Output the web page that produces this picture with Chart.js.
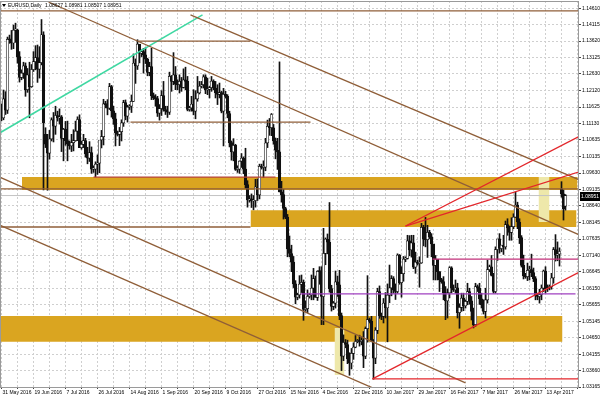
<!DOCTYPE html>
<html>
<head>
<meta charset="utf-8">
<title>EURUSD Daily</title>
<script src="https://cdn.jsdelivr.net/npm/chart.js@4.4.1/dist/chart.umd.min.js"></script>
<style>
  html, body { margin: 0; padding: 0; background: #fff; }
  #wrap { width: 600px; height: 400px; }
</style>
</head>
<body>
<div id="wrap"><canvas id="eurusd" width="600" height="400"></canvas></div>
<script>
// EURUSD daily bars 31 May 2016 .. 25 Apr 2017 (broker with Sunday bars, 6 per week)
// one row = one week, Sun..Fri
const opens = [
  1.1143, 1.1130, 1.1187, 1.1153,
  1.1367, 1.1366, 1.1356, 1.1395, 1.1395, 1.1315,
  1.1252, 1.1265, 1.1287, 1.1215, 1.1260, 1.1224,
  1.1276, 1.1300, 1.1312, 1.1277, 1.1297, 1.1381,
  1.1080, 1.1050, 1.1023, 1.1066, 1.1124, 1.1105,
  1.1137, 1.1130, 1.1133, 1.1068, 1.1095, 1.1061,
  1.1051, 1.1045, 1.1055, 1.1061, 1.1090, 1.1125,
  1.1040, 1.1050, 1.1061, 1.1021, 1.1008, 1.1025,
  1.0975, 1.0975, 1.0990, 1.0993, 1.1063, 1.1073,
  1.1172, 1.1170, 1.1159, 1.1224, 1.1151, 1.1127,
  1.1085, 1.1080, 1.1088, 1.1115, 1.1176, 1.1135,
  1.1162, 1.1165, 1.1180, 1.1295, 1.1287, 1.1353,
  1.1325, 1.1330, 1.1320, 1.1307, 1.1267, 1.1285,
  1.1197, 1.1190, 1.1188, 1.1144, 1.1158, 1.1197,
  1.1155, 1.1150, 1.1147, 1.1255, 1.1240, 1.1260,
  1.1232, 1.1230, 1.1240, 1.1222, 1.1245, 1.1240,
  1.1155, 1.1160, 1.1171, 1.1150, 1.1187, 1.1205,
  1.1226, 1.1230, 1.1254, 1.1214, 1.1216, 1.1221,
  1.1241, 1.1220, 1.1206, 1.1201, 1.1206, 1.1150,
  1.1201, 1.1195, 1.1143, 1.1055, 1.1027, 1.1047,
  1.0974, 1.0975, 1.0999, 1.1008, 1.0975, 1.0928,
  1.0882, 1.0885, 1.0879, 1.0880, 1.0921, 1.0897,
  1.0983, 1.0980, 1.0981, 1.1054, 1.1104, 1.1100,
  1.1100, 1.1060, 1.1032, 1.1027, 1.0906, 1.0898,
  1.0856, 1.0830, 1.0734, 1.0720, 1.0694, 1.0628,
  1.0588, 1.0595, 1.0627, 1.0633, 1.0551, 1.0553,
  1.0590, 1.0595, 1.0615, 1.0644, 1.0587, 1.0666,
  1.0665, 1.0590, 1.0720, 1.0763, 1.0754, 1.0614,
  1.0560, 1.0570, 1.0634, 1.0625, 1.0532, 1.0410,
  1.0451, 1.0445, 1.0402, 1.0389, 1.0418, 1.0437,
  1.0454, 1.0455, 1.0454, 1.0458, 1.0410, 1.0493,
  1.0520, 1.0515, 1.0457, 1.0404, 1.0488, 1.0605,
  1.0532, 1.0530, 1.0570, 1.0556, 1.0594, 1.0616,
  1.0644, 1.0610, 1.0605, 1.0715, 1.0632, 1.0659,
  1.0703, 1.0705, 1.0758, 1.0731, 1.0752, 1.0679,
  1.0694, 1.0690, 1.0692, 1.0799, 1.0763, 1.0762,
  1.0784, 1.0770, 1.0749, 1.0684, 1.0703, 1.0665,
  1.0641, 1.0635, 1.0601, 1.0577, 1.0601, 1.0677,
  1.0615, 1.0610, 1.0616, 1.0541, 1.0557, 1.0585,
  1.0562, 1.0575, 1.0605, 1.0577, 1.0545, 1.0505,
  1.0620, 1.0615, 1.0583, 1.0565, 1.0545, 1.0580,
  1.0671, 1.0680, 1.0654, 1.0605, 1.0732, 1.0764,
  1.0735, 1.0745, 1.0740, 1.0807, 1.0797, 1.0784,
  1.0801, 1.0830, 1.0866, 1.0815, 1.0768, 1.0684,
  1.0652, 1.0650, 1.0669, 1.0671, 1.0662, 1.0644,
  1.0592, 1.0590, 1.0596, 1.0615, 1.0667, 1.0613,
  1.0617, 1.0620, 1.0646, 1.0732, 1.0715, 1.0718,
  1.0915, 1.0900, 1.0863,
];
const highs = [
  1.1172, 1.1214, 1.1209, 1.1374,
  1.1380, 1.1394, 1.1410, 1.1416, 1.1398, 1.1330,
  1.1275, 1.1298, 1.1296, 1.1279, 1.1298, 1.1291,
  1.1330, 1.1348, 1.1350, 1.1345, 1.1427, 1.1390,
  1.1100, 1.1080, 1.1092, 1.1130, 1.1146, 1.1165,
  1.1150, 1.1157, 1.1137, 1.1098, 1.1119, 1.1120,
  1.1060, 1.1080, 1.1094, 1.1120, 1.1133, 1.1139,
  1.1060, 1.1080, 1.1068, 1.1041, 1.1058, 1.1042,
  1.0985, 1.0997, 1.1018, 1.1062, 1.1092, 1.1186,
  1.1180, 1.1185, 1.1234, 1.1228, 1.1165, 1.1144,
  1.1090, 1.1101, 1.1124, 1.1183, 1.1184, 1.1168,
  1.1170, 1.1199, 1.1323, 1.1308, 1.1366, 1.1352,
  1.1335, 1.1340, 1.1342, 1.1310, 1.1298, 1.1340,
  1.1205, 1.1200, 1.1195, 1.1170, 1.1212, 1.1240,
  1.1165, 1.1165, 1.1268, 1.1258, 1.1327, 1.1285,
  1.1245, 1.1260, 1.1252, 1.1278, 1.1283, 1.1255,
  1.1165, 1.1195, 1.1215, 1.1212, 1.1255, 1.1240,
  1.1240, 1.1260, 1.1260, 1.1250, 1.1225, 1.1255,
  1.1245, 1.1240, 1.1230, 1.1235, 1.1210, 1.1219,
  1.1210, 1.1200, 1.1150, 1.1060, 1.1067, 1.1050,
  1.0985, 1.1000, 1.1022, 1.1012, 1.1038, 1.0940,
  1.0895, 1.0900, 1.0895, 1.0944, 1.0945, 1.0990,
  1.0990, 1.1000, 1.1068, 1.1123, 1.1128, 1.1143,
  1.1110, 1.1069, 1.1068, 1.1299, 1.0938, 1.0913,
  1.0860, 1.0838, 1.0773, 1.0745, 1.0711, 1.0638,
  1.0600, 1.0653, 1.0655, 1.0640, 1.0577, 1.0610,
  1.0600, 1.0655, 1.0675, 1.0652, 1.0668, 1.0680,
  1.0680, 1.0796, 1.0767, 1.0779, 1.0874, 1.0624,
  1.0575, 1.0667, 1.0652, 1.0669, 1.0540, 1.0474,
  1.0460, 1.0458, 1.0420, 1.0433, 1.0450, 1.0472,
  1.0460, 1.0473, 1.0468, 1.0484, 1.0498, 1.0653,
  1.0525, 1.0530, 1.0460, 1.0496, 1.0615, 1.0622,
  1.0540, 1.0584, 1.0602, 1.0628, 1.0685, 1.0653,
  1.0650, 1.0628, 1.0719, 1.0717, 1.0680, 1.0711,
  1.0710, 1.0775, 1.0774, 1.0775, 1.0775, 1.0724,
  1.0700, 1.0710, 1.0811, 1.0805, 1.0829, 1.0805,
  1.0790, 1.0780, 1.0717, 1.0714, 1.0702, 1.0665,
  1.0645, 1.0650, 1.0620, 1.0613, 1.0680, 1.0680,
  1.0625, 1.0640, 1.0630, 1.0568, 1.0600, 1.0600,
  1.0580, 1.0630, 1.0615, 1.0590, 1.0555, 1.0630,
  1.0625, 1.0630, 1.0600, 1.0580, 1.0615, 1.0700,
  1.0685, 1.0714, 1.0660, 1.0740, 1.0747, 1.0780,
  1.0745, 1.0775, 1.0818, 1.0825, 1.0803, 1.0828,
  1.0840, 1.0906, 1.0875, 1.0825, 1.0774, 1.0715,
  1.0660, 1.0691, 1.0681, 1.0718, 1.0676, 1.0650,
  1.0600, 1.0612, 1.0625, 1.0670, 1.0680, 1.0625,
  1.0625, 1.0660, 1.0738, 1.0777, 1.0755, 1.0737,
  1.0937, 1.0912, 1.0898,
];
const lows = [
  1.1121, 1.1124, 1.1140, 1.1143,
  1.1355, 1.1337, 1.1339, 1.1358, 1.1295, 1.1238,
  1.1245, 1.1249, 1.1195, 1.1207, 1.1130, 1.1222,
  1.1270, 1.1275, 1.1237, 1.1250, 1.1290, 1.0912,
  1.1040, 1.0911, 1.1005, 1.1060, 1.1057, 1.1080,
  1.1120, 1.1111, 1.1028, 1.1000, 1.1047, 1.1000,
  1.1035, 1.1028, 1.1030, 1.1059, 1.1061, 1.1040,
  1.1035, 1.1040, 1.1011, 1.0991, 1.0998, 1.0962,
  1.0965, 1.0952, 1.0959, 1.0964, 1.1039, 1.1048,
  1.1160, 1.1139, 1.1155, 1.1132, 1.1110, 1.1045,
  1.1075, 1.1046, 1.1060, 1.1104, 1.1124, 1.1117,
  1.1155, 1.1146, 1.1179, 1.1234, 1.1276, 1.1296,
  1.1315, 1.1265, 1.1294, 1.1257, 1.1257, 1.1185,
  1.1185, 1.1165, 1.1134, 1.1123, 1.1137, 1.1150,
  1.1140, 1.1131, 1.1140, 1.1210, 1.1230, 1.1215,
  1.1215, 1.1205, 1.1210, 1.1220, 1.1215, 1.1151,
  1.1150, 1.1150, 1.1139, 1.1127, 1.1180, 1.1202,
  1.1220, 1.1220, 1.1203, 1.1200, 1.1190, 1.1210,
  1.1215, 1.1190, 1.1170, 1.1190, 1.1145, 1.1045,
  1.1190, 1.1130, 1.1042, 1.1002, 1.1000, 1.0971,
  1.0965, 1.0962, 1.0980, 1.0961, 1.0917, 1.0860,
  1.0875, 1.0859, 1.0852, 1.0860, 1.0880, 1.0885,
  1.0975, 1.0950, 1.0970, 1.1040, 1.1077, 1.1076,
  1.1050, 1.1006, 1.0974, 1.0906, 1.0875, 1.0824,
  1.0825, 1.0710, 1.0710, 1.0665, 1.0617, 1.0568,
  1.0580, 1.0585, 1.0602, 1.0518, 1.0545, 1.0541,
  1.0585, 1.0580, 1.0580, 1.0588, 1.0578, 1.0627,
  1.0505, 1.0505, 1.0686, 1.0719, 1.0603, 1.0546,
  1.0550, 1.0555, 1.0590, 1.0520, 1.0366, 1.0396,
  1.0435, 1.0387, 1.0352, 1.0371, 1.0400, 1.0435,
  1.0450, 1.0440, 1.0444, 1.0375, 1.0402, 1.0452,
  1.0510, 1.0453, 1.0340, 1.0387, 1.0478, 1.0524,
  1.0520, 1.0510, 1.0525, 1.0453, 1.0571, 1.0592,
  1.0600, 1.0581, 1.0600, 1.0627, 1.0588, 1.0636,
  1.0695, 1.0703, 1.0713, 1.0709, 1.0674, 1.0660,
  1.0685, 1.0618, 1.0690, 1.0743, 1.0740, 1.0708,
  1.0765, 1.0710, 1.0640, 1.0640, 1.0640, 1.0605,
  1.0630, 1.0580, 1.0520, 1.0525, 1.0586, 1.0601,
  1.0605, 1.0600, 1.0525, 1.0494, 1.0545, 1.0547,
  1.0555, 1.0565, 1.0567, 1.0519, 1.0495, 1.0500,
  1.0605, 1.0566, 1.0555, 1.0537, 1.0525, 1.0570,
  1.0665, 1.0652, 1.0600, 1.0600, 1.0699, 1.0721,
  1.0725, 1.0717, 1.0733, 1.0775, 1.0760, 1.0760,
  1.0795, 1.0829, 1.0795, 1.0750, 1.0679, 1.0643,
  1.0645, 1.0638, 1.0640, 1.0650, 1.0635, 1.0580,
  1.0580, 1.0570, 1.0580, 1.0605, 1.0600, 1.0605,
  1.0610, 1.0612, 1.0630, 1.0697, 1.0698, 1.0682,
  1.0890, 1.0821, 1.0851,
];
const closes = [
  1.1130, 1.1187, 1.1153, 1.1367,
  1.1366, 1.1356, 1.1395, 1.1395, 1.1315, 1.1252,
  1.1265, 1.1287, 1.1215, 1.1260, 1.1224, 1.1276,
  1.1300, 1.1312, 1.1277, 1.1297, 1.1381, 1.1115,
  1.1050, 1.1023, 1.1066, 1.1124, 1.1105, 1.1137,
  1.1130, 1.1133, 1.1068, 1.1095, 1.1061, 1.1051,
  1.1045, 1.1055, 1.1061, 1.1090, 1.1125, 1.1040,
  1.1050, 1.1061, 1.1021, 1.1008, 1.1025, 1.0975,
  1.0975, 1.0990, 1.0993, 1.1063, 1.1073, 1.1172,
  1.1170, 1.1159, 1.1224, 1.1151, 1.1127, 1.1085,
  1.1080, 1.1088, 1.1115, 1.1176, 1.1135, 1.1162,
  1.1165, 1.1180, 1.1295, 1.1287, 1.1353, 1.1325,
  1.1330, 1.1320, 1.1307, 1.1267, 1.1285, 1.1197,
  1.1190, 1.1188, 1.1144, 1.1158, 1.1197, 1.1155,
  1.1150, 1.1147, 1.1255, 1.1240, 1.1260, 1.1232,
  1.1230, 1.1240, 1.1222, 1.1245, 1.1240, 1.1155,
  1.1160, 1.1171, 1.1150, 1.1187, 1.1205, 1.1226,
  1.1230, 1.1254, 1.1214, 1.1216, 1.1221, 1.1241,
  1.1220, 1.1206, 1.1201, 1.1206, 1.1150, 1.1201,
  1.1195, 1.1143, 1.1055, 1.1027, 1.1047, 1.0974,
  1.0975, 1.0999, 1.1008, 1.0975, 1.0928, 1.0882,
  1.0885, 1.0879, 1.0880, 1.0921, 1.0897, 1.0983,
  1.0980, 1.0981, 1.1054, 1.1104, 1.1100, 1.1140,
  1.1060, 1.1032, 1.1027, 1.0906, 1.0898, 1.0856,
  1.0830, 1.0734, 1.0720, 1.0694, 1.0628, 1.0588,
  1.0595, 1.0627, 1.0633, 1.0551, 1.0553, 1.0590,
  1.0595, 1.0615, 1.0644, 1.0587, 1.0666, 1.0665,
  1.0590, 1.0720, 1.0763, 1.0754, 1.0614, 1.0560,
  1.0570, 1.0634, 1.0625, 1.0532, 1.0410, 1.0451,
  1.0445, 1.0402, 1.0389, 1.0418, 1.0437, 1.0454,
  1.0455, 1.0454, 1.0458, 1.0410, 1.0493, 1.0520,
  1.0515, 1.0457, 1.0404, 1.0488, 1.0605, 1.0532,
  1.0530, 1.0570, 1.0556, 1.0594, 1.0616, 1.0644,
  1.0610, 1.0605, 1.0715, 1.0632, 1.0659, 1.0703,
  1.0705, 1.0758, 1.0731, 1.0752, 1.0679, 1.0694,
  1.0690, 1.0692, 1.0799, 1.0763, 1.0762, 1.0784,
  1.0770, 1.0749, 1.0684, 1.0703, 1.0665, 1.0641,
  1.0635, 1.0601, 1.0577, 1.0601, 1.0677, 1.0615,
  1.0610, 1.0616, 1.0541, 1.0557, 1.0585, 1.0562,
  1.0575, 1.0605, 1.0577, 1.0545, 1.0505, 1.0620,
  1.0615, 1.0583, 1.0565, 1.0545, 1.0580, 1.0671,
  1.0680, 1.0654, 1.0605, 1.0732, 1.0764, 1.0735,
  1.0745, 1.0740, 1.0807, 1.0797, 1.0784, 1.0801,
  1.0830, 1.0866, 1.0815, 1.0768, 1.0684, 1.0652,
  1.0650, 1.0669, 1.0671, 1.0662, 1.0644, 1.0592,
  1.0590, 1.0596, 1.0615, 1.0667, 1.0613, 1.0617,
  1.0620, 1.0646, 1.0732, 1.0715, 1.0718, 1.0726,
  1.0900, 1.0855, 1.0895,
];

// time axis: one label every 16 bars, starting at bar 0
const dateLabels = [
  '31 May 2016', '19 Jun 2016', '7 Jul 2016', '26 Jul 2016', '14 Aug 2016', '1 Sep 2016',
  '20 Sep 2016', '9 Oct 2016', '27 Oct 2016', '15 Nov 2016', '4 Dec 2016', '22 Dec 2016',
  '10 Jan 2017', '29 Jan 2017', '16 Feb 2017', '7 Mar 2017', '26 Mar 2017', '13 Apr 2017',
];
const priceTicks = [
  1.14610, 1.14115, 1.13620, 1.13125, 1.12630, 1.12120, 1.11625, 1.11130,
  1.10635, 1.10135, 1.09630, 1.09135, 1.08640, 1.08145, 1.07635, 1.07140,
  1.06645, 1.06150, 1.05655, 1.05145, 1.04650, 1.04155, 1.03660, 1.03165,
];
const lastPrice = 1.08951;
const headerValues = ['1.08627', '1.08981', '1.08507', '1.08951'];

// drawn objects: [bar1, price1, bar2, price2]
const brownLines = [
  [-1, 1.1453, 289, 1.1453],
  [23.5, 1.1480, 289, 1.0776],
  [94.5, 1.1441, 289, 1.0942],
  [68.5, 1.1362, 124.5, 1.1362],
  [64.5, 1.1117, 154.5, 1.1117],
  [-1, 1.0915, 289, 1.0915],
  [-1, 1.0800, 124.5, 1.0800],
  [-1, 1.0951, 232, 1.0329],
  [-1, 1.0806, 185.5, 1.0314],
];
const greenLine = [-1, 1.1084, 100.5, 1.1441];
const maroonLine = [46, 1.0951, 137, 1.0951];
const redLines = [
  [185.5, 1.0341, 288.5, 1.0341],
  [185.5, 1.0341, 289, 1.0664],
  [202, 1.0803, 289, 1.1074],
  [202, 1.0803, 289, 1.0967],
];
const magentaLine = [215.5, 1.0703, 289, 1.0703];
const purpleLine = [149.5, 1.0598, 287, 1.0598];

// rectangles: [bar1, bar2, priceTop, priceBottom]
const goldBoxes = [
  [10.25, 288, 1.0951, 1.0912],
  [124.5, 287.5, 1.0851, 1.0800],
  [-1, 280.5, 1.0531, 1.0453],
];
const paleBoxes = [
  [166.5, 171.5, 1.0495, 1.0353],
  [268.5, 274, 1.0951, 1.0815],
];

const BROWN = '#8f5e38';
const GOLD = '#DAA520';
const PALE = '#EEE8AA';
const FONT = 'Liberation Sans';

function segment(p, color, order, width = 1.3) {
  return {
    type: 'line',
    data: [{ x: p[0], y: p[1] }, { x: p[2], y: p[3] }],
    borderColor: color,
    borderWidth: width,
    pointRadius: 0,
    fill: false,
    tension: 0,
    order,
  };
}

function rect(b, color, order) {
  return {
    type: 'line',
    data: [{ x: b[0], y: b[2] }, { x: b[1], y: b[2] }],
    borderWidth: 0,
    pointRadius: 0,
    backgroundColor: color,
    fill: { value: b[3] },
    order,
  };
}

const overlay = {
  id: 'mtOverlay',
  afterDraw(chart) {
    const { ctx, chartArea: a, scales } = chart;
    ctx.save();
    // frame
    ctx.strokeStyle = '#9a9a9a';
    ctx.lineWidth = 1;
    ctx.strokeRect(a.left + 0.5, a.top + 0.5, a.right - a.left - 1, a.bottom - a.top);

    // header
    ctx.fillStyle = '#000';
    ctx.beginPath();
    ctx.moveTo(2, 4); ctx.lineTo(6, 4); ctx.lineTo(4, 7); ctx.closePath();
    ctx.fill();
    ctx.font = `5px "${FONT}"`;
    ctx.textBaseline = 'middle';
    ctx.fillText('EURUSD,Daily', 8, 5.5);
    ctx.fillText(headerValues.join(' '), 45, 5.5);

    // last price tag on the axis
    const y = Math.round(scales.y.getPixelForValue(lastPrice));
    ctx.fillStyle = '#000';
    ctx.fillRect(a.right + 1, y - 4, 20, 9);
    ctx.fillStyle = '#fff';
    ctx.fillText(lastPrice.toFixed(5), a.right + 2, y + 0.5);
    ctx.restore();
  },
};

function buildChart() {
  const bars = closes.map((c, i) => i);
  const bull = bars.map((i) => closes[i] >= opens[i]);

  const datasets = [];
  goldBoxes.forEach((b) => datasets.push(rect(b, GOLD, 20)));
  paleBoxes.forEach((b) => datasets.push(rect(b, PALE, 19)));
  datasets.push(segment([-1, lastPrice, 289, lastPrice], '#c4c4c4', 18, 1));

  datasets.push({
    type: 'bar',
    data: bars.map((i) => ({ x: i, y: [lows[i], highs[i]] })),
    backgroundColor: '#111',
    barThickness: 1,
    grouped: false,
    order: 11,
  });
  datasets.push({
    type: 'bar',
    data: bars.map((i) => ({ x: i, y: [opens[i], closes[i]] })),
    backgroundColor: bull.map((b) => (b ? '#fff' : '#111')),
    borderColor: '#111',
    borderWidth: 0.7,
    borderSkipped: false,
    barThickness: 2.6,
    minBarLength: 1,
    grouped: false,
    order: 10,
  });

  brownLines.forEach((l) => datasets.push(segment(l, BROWN, 2)));
  datasets.push(segment(greenLine, '#3fd8a2', 2, 1.6));
  datasets.push(segment(maroonLine, '#b8453a', 2));
  redLines.forEach((l) => datasets.push(segment(l, '#e3262b', 1)));
  datasets.push(segment(magentaLine, '#c2307a', 1));
  datasets.push(segment(purpleLine, '#a040c0', 1));

  return new Chart(document.getElementById('eurusd'), {
    type: 'bar',
    data: { datasets },
    plugins: [overlay],
    options: {
      responsive: false,
      devicePixelRatio: 1,
      animation: false,
      events: [],
      layout: { padding: { top: 1, left: 0, right: 0, bottom: 0 } },
      plugins: {
        legend: { display: false },
        tooltip: { enabled: false },
        title: { display: false },
      },
      scales: {
        x: {
          type: 'linear',
          min: -0.75,
          max: 288.75,
          offset: false,
          grid: {
            color: '#cfcfcf',
            offset: false,
            drawTicks: true,
            tickLength: 2,
            tickColor: '#444',
          },
          border: { display: false, dash: [2, 2] },
          ticks: {
            autoSkip: false,
            maxRotation: 0,
            align: 'start',
            labelOffset: 1,
            padding: 1,
            color: '#000',
            font: { family: FONT, size: 5 },
            callback: (v) => (v % 16 === 0 ? (dateLabels[v / 16] ?? '') : ''),
          },
          afterBuildTicks: (scale) => {
            const t = [];
            for (let i = 0; i <= 288; i += 8) t.push({ value: i });
            scale.ticks = t;
          },
          afterFit: (scale) => {
            scale.height = 13;
            scale.paddingLeft = 0;
            scale.paddingRight = 0;
          },
        },
        y: {
          type: 'linear',
          position: 'right',
          min: 1.03165,
          max: 1.1483,
          grid: {
            color: '#cfcfcf',
            drawTicks: true,
            tickLength: 2,
            tickColor: '#444',
          },
          border: { display: false, dash: [2, 2] },
          ticks: {
            padding: 1,
            color: '#000',
            font: { family: FONT, size: 5 },
            callback: (v) => Number(v).toFixed(5),
          },
          afterBuildTicks: (scale) => {
            scale.ticks = priceTicks.map((v) => ({ value: v }));
          },
          afterFit: (scale) => {
            scale.width = 21;
            scale.paddingTop = 0;
            scale.paddingBottom = 0;
          },
        },
      },
    },
  });
}

document.addEventListener('DOMContentLoaded', buildChart);
</script>
</body>
</html>
